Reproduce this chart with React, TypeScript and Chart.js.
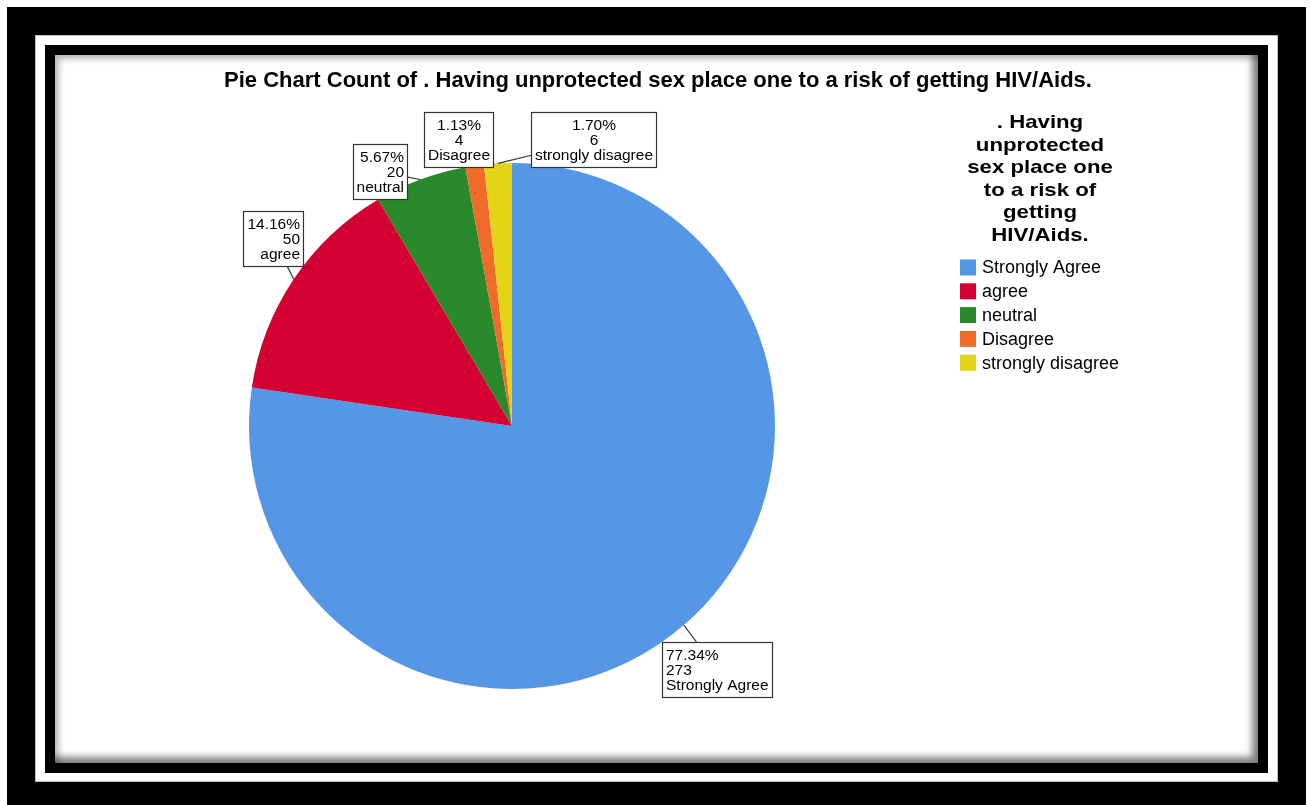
import React, { useEffect, useRef } from "react";
import { Chart, registerables } from "chart.js";

Chart.register(...registerables);

const chartTitle = "Pie Chart Count of . Having unprotected sex place one to a risk of getting HIV/Aids.";
const legendTitleLines = [". Having", "unprotected", "sex place one", "to a risk of", "getting", "HIV/Aids."];
const categories = ["Strongly Agree", "agree", "neutral", "Disagree", "strongly disagree"];
const counts = [273, 50, 20, 4, 6];
const colors = ["#5596E6", "#D50032", "#2A892A", "#F06A29", "#E4D416"];

// label box placement relative to the slice's outer edge point (style only)
const labelPlacement = [
  { dx: -22, dy: 17, align: "left" },
  { dx: -51, dy: -68, align: "right" },
  { dx: -67, dy: -35, align: "right" },
  { dx: -51, dy: -54, align: "center" },
  { dx: 33, dy: -51, align: "center" },
];

const FONT = "'Liberation Sans', Arial, sans-serif";

const overlayPlugin = {
  id: "overlay",
  afterDraw(chart: any) {
    const ctx: CanvasRenderingContext2D = chart.ctx;
    ctx.save();
    // Title
    ctx.fillStyle = "#000";
    ctx.font = `bold 22px ${FONT}`;
    ctx.textAlign = "center";
    ctx.textBaseline = "alphabetic";
    ctx.fillText(chartTitle, 658, 87);

    // Legend title (slightly wide lettering)
    ctx.font = `bold 18.5px ${FONT}`;
    legendTitleLines.forEach((l, i) => {
      ctx.save();
      ctx.translate(1040, 128 + i * 22.5);
      ctx.scale(1.2, 1);
      ctx.fillText(l, 0, 0);
      ctx.restore();
    });

    // Legend items
    const ds = chart.data.datasets[0];
    ctx.textAlign = "left";
    ctx.textBaseline = "middle";
    ctx.font = `18px ${FONT}`;
    chart.data.labels.forEach((lab: string, i: number) => {
      const top = 259.5 + i * 23.8;
      ctx.fillStyle = ds.backgroundColor[i];
      ctx.fillRect(960, top, 16, 16);
      ctx.fillStyle = "#000";
      ctx.fillText(lab, 982, top + 9);
    });

    // Slice labels
    const meta = chart.getDatasetMeta(0);
    const total = ds.data.reduce((a: number, b: number) => a + b, 0);
    ctx.font = `15.5px ${FONT}`;
    const lineH = 15;
    const padX = 3.5;
    const padY = 5;
    meta.data.forEach((arc: any, i: number) => {
      const p = arc.getProps(["x", "y", "startAngle", "endAngle", "outerRadius"], true);
      const mid = (p.startAngle + p.endAngle) / 2;
      const ex = p.x + Math.cos(mid) * p.outerRadius;
      const ey = p.y + Math.sin(mid) * p.outerRadius;
      const lines = [
        ((ds.data[i] / total) * 100).toFixed(2) + "%",
        String(ds.data[i]),
        chart.data.labels[i],
      ];
      const w = Math.round(Math.max(...lines.map((l) => ctx.measureText(l).width)) + padX * 2);
      const h = lines.length * lineH + padY * 2;
      const pl = labelPlacement[i];
      const bx = Math.round(ex + pl.dx) + 0.5;
      const by = Math.round(ey + pl.dy) + 0.5;
      const cx = bx + w / 2;
      const cy = by + h / 2;
      const inside = ex >= bx && ex <= bx + w && ey >= by && ey <= by + h;
      if (!inside) {
        const dx = cx - ex;
        const dy = cy - ey;
        let t = 1;
        const cands: number[] = [];
        if (dx !== 0) cands.push((bx - ex) / dx, (bx + w - ex) / dx);
        if (dy !== 0) cands.push((by - ey) / dy, (by + h - ey) / dy);
        cands.forEach((c) => {
          if (c > 0 && c < t) {
            const px = ex + dx * c;
            const py = ey + dy * c;
            if (px >= bx - 0.01 && px <= bx + w + 0.01 && py >= by - 0.01 && py <= by + h + 0.01) t = c;
          }
        });
        ctx.strokeStyle = "#333";
        ctx.lineWidth = 1.2;
        ctx.beginPath();
        ctx.moveTo(ex, ey);
        ctx.lineTo(ex + dx * t, ey + dy * t);
        ctx.stroke();
      }
      ctx.fillStyle = "#fff";
      ctx.fillRect(bx, by, w, h);
      ctx.strokeStyle = "#333";
      ctx.lineWidth = 1.2;
      ctx.strokeRect(bx, by, w, h);
      ctx.fillStyle = "#000";
      ctx.textBaseline = "alphabetic";
      let tx = bx + padX;
      if (pl.align === "center") {
        ctx.textAlign = "center";
        tx = bx + w / 2;
      } else if (pl.align === "right") {
        ctx.textAlign = "right";
        tx = bx + w - padX;
      } else {
        ctx.textAlign = "left";
      }
      lines.forEach((l, k) => {
        ctx.fillText(l, tx, by + padY + (k + 1) * lineH - 2.5);
      });
    });
    ctx.restore();
  },
};

export default function App() {
  const ref = useRef<HTMLCanvasElement>(null);
  useEffect(() => {
    if (!ref.current) return;
    const chart = new Chart(ref.current, {
      type: "pie",
      data: {
        labels: categories,
        datasets: [
          {
            data: counts,
            backgroundColor: colors,
            borderWidth: 0,
          },
        ],
      },
      options: {
        responsive: false,
        animation: false,
        layout: { padding: { left: 249, right: 536, top: 163, bottom: 116 } },
        plugins: {
          legend: { display: false },
          title: { display: false },
          tooltip: { enabled: false },
        },
      },
      plugins: [overlayPlugin],
    });
    return () => chart.destroy();
  }, []);

  const abs = (l: number, t: number, w: number, h: number, extra: any = {}) => ({
    position: "absolute" as const,
    left: l,
    top: t,
    width: w,
    height: h,
    ...extra,
  });

  return (
    <div style={abs(0, 0, 1311, 805, { background: "#fff", overflow: "hidden" })}>
      <div style={abs(7, 7, 1299, 798, { background: "#000" })} />
      <div style={abs(35, 35, 1243, 747, { background: "#fff", boxShadow: "inset 0 0 0 1px #bbb" })} />
      <div style={abs(45, 45, 1223, 728, { background: "#000" })} />
      <div
        style={abs(55, 55, 1203, 708, {
          background: "#fff",
          boxShadow: "inset -6px -6px 7px rgba(0,0,0,0.5), inset 4px 4px 6px rgba(0,0,0,0.28)",
        })}
      />
      <canvas ref={ref} width={1311} height={805} style={abs(0, 0, 1311, 805)} />
    </div>
  );
}
